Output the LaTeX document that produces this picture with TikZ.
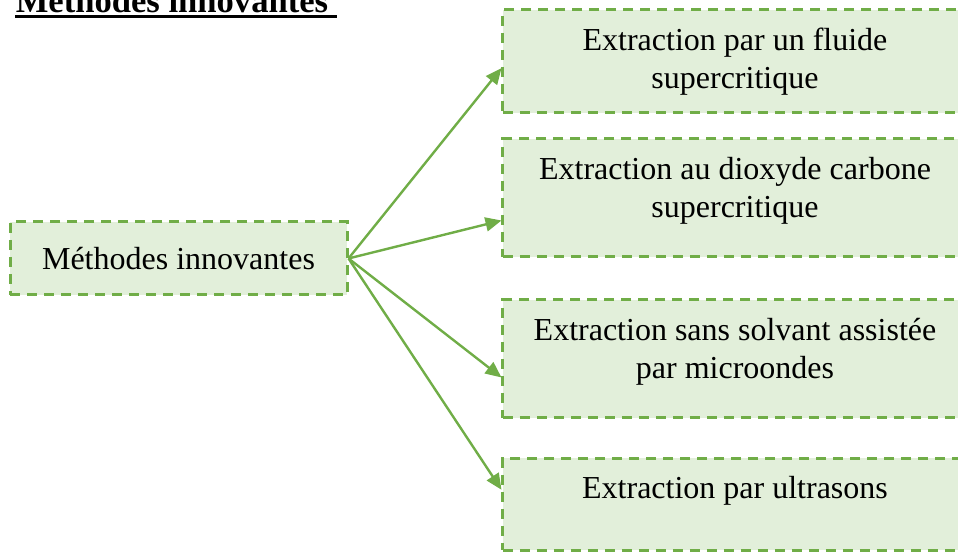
\documentclass[tikz,border=0pt]{standalone}
\usepackage{xcolor}
\usepackage{fontspec}
\setmainfont{Liberation Serif}
\usepackage{tikz}
\usetikzlibrary{arrows.meta,positioning,calc}
\definecolor{vert}{HTML}{70AD47}
\definecolor{vertclair}{HTML}{E2EFDA}

\begin{document}
\begin{tikzpicture}[
			scale = 1,
			every node/.style = {scale = 1},
			box/.style = {draw=vert, fill=vertclair, line width=1.5pt, dash pattern=on 5pt off 3.5pt},
			txt/.style = {font=\fontsize{16}{19}\selectfont, align=center, inner sep=0pt},
			fleche/.style = {draw=vert, line width=1.2pt, -{Triangle[length=8pt,width=7pt]}}
			]

			\useasboundingbox (0,0) rectangle (16.835,9.700);

			% titre
			\node[anchor=base west, inner sep=0pt, font=\bfseries\fontsize{17.3}{20}\selectfont] (titre) at (0.27,9.472) {Méthodes innovantes};
			\fill ([yshift=-1pt]titre.base west) rectangle ([xshift=4.3pt,yshift=-2.75pt]titre.base east);

			% boites
			\node[box, txt, minimum width=5.922cm, minimum height=1.283cm] (mi) at (3.137,5.158) {Méthodes innovantes};
			\node[box, minimum width=8.154cm, minimum height=1.810cm] (b1) at (12.916,8.620) {};
			\node[box, minimum width=8.154cm, minimum height=2.074cm] (b2) at (12.916,6.221) {};
			\node[box, minimum width=8.154cm, minimum height=2.074cm] (b3) at (12.916,3.392) {};
			\node[box, minimum width=8.154cm, minimum height=1.617cm] (b4) at (12.916,0.843) {};

			\node[txt, anchor=north] (t1) at ([yshift=-9.5pt]b1.north) {Extraction par un fluide\\supercritique};
			\node[txt, anchor=north] (t2) at ([yshift=-9.5pt]b2.north) {Extraction au dioxyde carbone\\supercritique};
			\node[txt, anchor=north] (t3) at ([yshift=-9.5pt]b3.north) {Extraction sans solvant assistée\\par microondes};
			\node[txt, anchor=north] (t4) at ([yshift=-9.5pt]b4.north) {Extraction par ultrasons};

			% fleches
			\draw[fleche] (mi.east) -- ($(b1.north west)!0.563!(b1.south west)$);
			\draw[fleche] (mi.east) -- ($(b2.north west)!0.686!(b2.south west)$);
			\draw[fleche] (mi.east) -- ($(b3.north west)!0.653!(b3.south west)$);
			\draw[fleche] (mi.east) -- ($(b4.north west)!0.350!(b4.south west)$);

		\end{tikzpicture}
\end{document}
